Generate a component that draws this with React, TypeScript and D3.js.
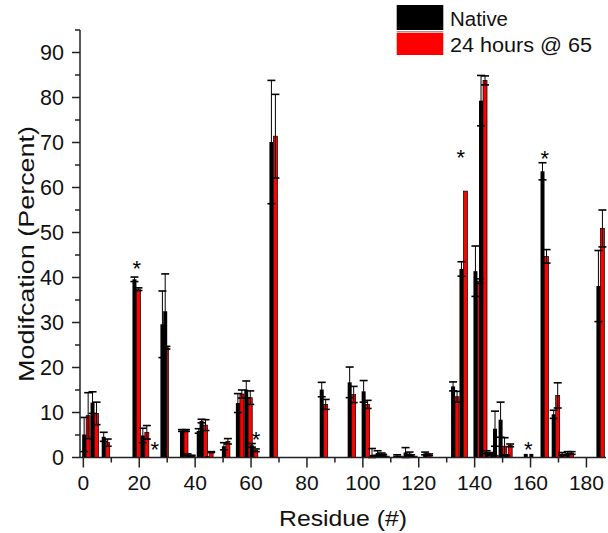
import React from "react";
import * as d3 from "d3";

const residues = [1, 4, 8, 19, 22, 29, 30, 36, 38, 42, 43, 45, 51, 56, 59, 61, 68, 86, 96, 101, 104, 106, 108, 113, 116, 118, 123, 133, 136, 141, 143, 145, 147, 148, 150, 152, 159, 161, 165, 169, 172, 174, 185];
const nativeValues = [5.1, 12.2, 4.6, 39.6, 4.9, 29.6, 32.5, 6.0, 0.6, 5.9, 8.1, 0.3, 2.5, 12.1, 15.1, 2.7, 70.1, 15.1, 16.7, 14.7, 0.6, 1.0, 0.5, 0.4, 1.1, 0.4, 0.9, 15.8, 41.9, 41.4, 79.3, 1.2, 0.8, 6.4, 8.4, 0.3, 0.8, 0.8, 63.6, 9.6, 0.8, 1.0, 38.1];
const nativeErrors = [3.8, 2.4, 1.0, 0.5, 1.6, 7.4, 8.3, 0.2, 0.2, 0.5, 0.4, 0, 0.8, 2.1, 1.9, 0.4, 13.7, 1.6, 3.4, 2.4, 1.4, 0.5, 0.2, 0.2, 1.1, 0.2, 0.3, 1.0, 1.6, 5.6, 5.6, 0.3, 0.3, 3.9, 3.9, 0.2, 0, 0, 1.9, 0.9, 0.3, 0.3, 7.9];
const heatValues = [9.3, 9.8, 3.3, 37.4, 5.6, 24.4, 0, 6.0, 0.4, 0, 7.2, 1.2, 3.6, 14.1, 13.3, 1.6, 71.4, 11.8, 14.0, 11.8, 0.3, 0.7, 0.3, 0.3, 0.8, 0.3, 0.6, 13.5, 59.2, 39.2, 83.8, 0.8, 0.5, 0, 2.5, 2.7, 0, 0, 44.7, 13.8, 0.5, 1.0, 50.9];
const heatErrors = [5.1, 2.5, 0.8, 0.3, 1.5, 0.3, 0, 0.2, 0.1, 0, 1.2, 0.1, 0.6, 0.9, 1.5, 0.3, 9.3, 1.1, 1.8, 0.9, 0.1, 0.3, 0, 0, 0.4, 0, 0.2, 1.2, 0, 0.5, 1.0, 0.2, 0, 0, 1.9, 0.3, 0, 0, 1.5, 2.8, 0, 0.3, 4.1];

const starResidues = [19.1, 25.6, 61.8, 135, 159.2, 165.1];
const starValues = [43.2, 3.0, 5.2, 67.7, 2.8, 67.6];

const xMajorTicks = [0, 20, 40, 60, 80, 100, 120, 140, 160, 180];
const xMinorTicks = [10, 30, 50, 70, 90, 110, 130, 150, 170];
const yMajorTicks = [0, 10, 20, 30, 40, 50, 60, 70, 80, 90];
const yMinorTicks = [5, 15, 25, 35, 45, 55, 65, 75, 85, 95];

const seriesNames = ["Native", "24 hours @ 65"];
const seriesColors = ["#000000", "#ff0000"];

const FONT = "Arial, 'Liberation Sans', sans-serif";

export default function App() {
  const x = d3.scaleLinear().domain([-1.2, 187]).range([80, 606]);
  const y = d3.scaleLinear().domain([0, 95]).range([457.5, 30]);
  const bw = 1.43;
  const bwPx = x(bw) - x(0);
  const capW = 8;
  const axisColor = "#222";

  const errBar = (cx: number, v: number, e: number, key: string) => {
    if (!(v > 0) || !(e > 0)) return null;
    const y1 = y(v + e);
    const y2 = y(Math.max(0, v - e));
    return (
      <g key={key}>
        <line x1={cx} x2={cx} y1={y1} y2={y2} stroke="#000" strokeWidth={1} />
        <line x1={cx - capW / 2} x2={cx + capW / 2} y1={y1} y2={y1} stroke="#000" strokeWidth={1.6} />
        <line x1={cx - capW / 2} x2={cx + capW / 2} y1={y2} y2={y2} stroke="#000" strokeWidth={1.6} />
      </g>
    );
  };

  return (
    <svg width={608} height={533} style={{ position: "absolute", left: 0, top: 0, background: "#fff" }}>
      <rect x={0} y={0} width={608} height={533} fill="#fff" />
      {residues.map((r, i) => (
        <g key={"b" + r}>
          {nativeValues[i] > 0 && (
            <rect x={x(r) - bwPx} y={y(nativeValues[i])} width={bwPx} height={y(0) - y(nativeValues[i])} fill={seriesColors[0]} />
          )}
          {heatValues[i] > 0 && (
            <rect x={x(r)} y={y(heatValues[i])} width={bwPx} height={y(0) - y(heatValues[i])} fill={seriesColors[1]} stroke="#000" strokeWidth={0.7} />
          )}
        </g>
      ))}
      {residues.map((r, i) => (
        <g key={"e" + r}>
          {errBar(x(r) - bwPx / 2, nativeValues[i], nativeErrors[i], "n" + r)}
          {errBar(x(r) + bwPx / 2, heatValues[i], heatErrors[i], "h" + r)}
        </g>
      ))}
      {starResidues.map((r, i) => (
        <text key={"s" + i} x={x(r)} y={y(starValues[i]) + 12.5} fontFamily={FONT} fontSize={22} textAnchor="middle" fill="#000">*</text>
      ))}
      <line x1={80} x2={80} y1={y(95)} y2={y(0)} stroke={axisColor} strokeWidth={1.5} />
      <line x1={80} x2={606} y1={y(0)} y2={y(0)} stroke={axisColor} strokeWidth={1.5} />
      {yMajorTicks.map((t) => (
        <g key={"ym" + t}>
          <line x1={72} x2={80} y1={y(t)} y2={y(t)} stroke={axisColor} strokeWidth={1.5} />
          <text x={64} y={y(t) + 7.7} fontFamily={FONT} fontSize={21.5} textAnchor="end" fill="#111">{t}</text>
        </g>
      ))}
      {yMinorTicks.map((t) => (
        <line key={"yn" + t} x1={75} x2={80} y1={y(t)} y2={y(t)} stroke={axisColor} strokeWidth={1.5} />
      ))}
      {xMajorTicks.map((t) => (
        <g key={"xm" + t}>
          <line x1={x(t)} x2={x(t)} y1={y(0)} y2={y(0) + 10} stroke={axisColor} strokeWidth={1.5} />
          <text x={x(t)} y={490} fontFamily={FONT} fontSize={21} textAnchor="middle" fill="#111">{t}</text>
        </g>
      ))}
      {xMinorTicks.map((t) => (
        <line key={"xn" + t} x1={x(t)} x2={x(t)} y1={y(0)} y2={y(0) + 5} stroke={axisColor} strokeWidth={1.5} />
      ))}
      <text x={343} y={526} fontFamily={FONT} fontSize={22} textAnchor="middle" fill="#111" textLength={128} lengthAdjust="spacingAndGlyphs">Residue (#)</text>
      <text transform="translate(34,254) rotate(-90)" fontFamily={FONT} fontSize={22} textAnchor="middle" fill="#111" textLength={256} lengthAdjust="spacingAndGlyphs">Modifcation (Percent)</text>
      <rect x={396.7} y={5} width={46.6} height={25} fill={seriesColors[0]} />
      <line x1={396.7} x2={443.3} y1={31.5} y2={31.5} stroke="#999" strokeWidth={1} />
      <rect x={396.7} y={32.7} width={46.6} height={22.3} fill={seriesColors[1]} />
      <text x={450} y={26} fontFamily={FONT} fontSize={20.5} fill="#111" textLength={58} lengthAdjust="spacingAndGlyphs">{seriesNames[0]}</text>
      <text x={450} y={51.7} fontFamily={FONT} fontSize={20.5} fill="#111" textLength={142} lengthAdjust="spacingAndGlyphs">{seriesNames[1]}</text>
    </svg>
  );
}
